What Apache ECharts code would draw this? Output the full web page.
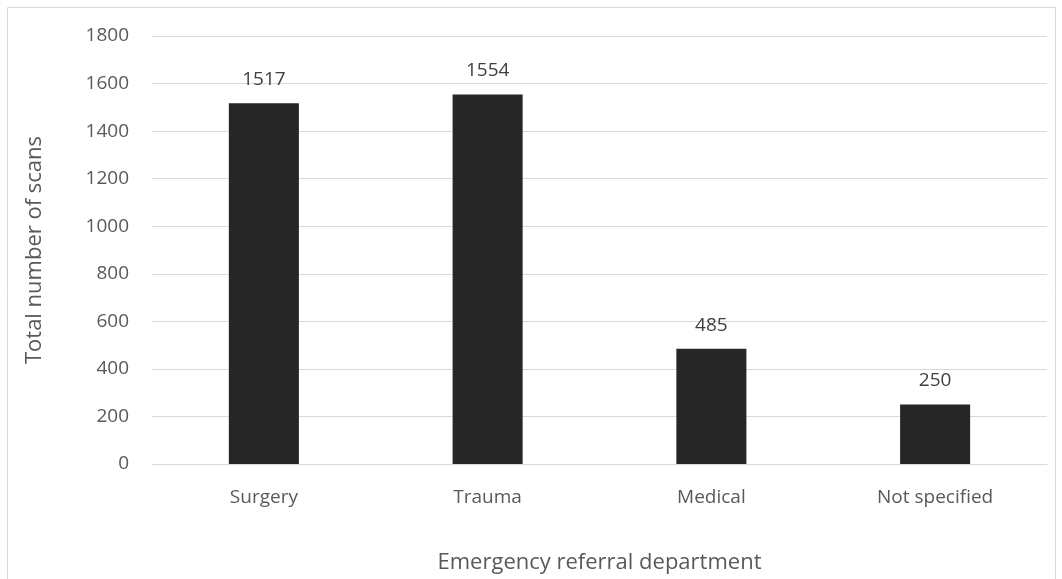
<!DOCTYPE html>
<html>
<head>
<meta charset="utf-8">
<script src="https://cdn.jsdelivr.net/npm/echarts@6/dist/echarts.min.js"></script>
<style>
  html, body { margin: 0; padding: 0; background: #fff; }
  #main { width: 1062px; height: 579px; }
</style>
</head>
<body>
<div id="main"></div>
<script>
const categories = ["Surgery", "Trauma", "Medical", "Not specified"];
const scans = [1517, 1554, 485, 250];
const yTicks = { min: 0, max: 1800, interval: 200 };

const textColor = "#595959";
const fontFamily = "'Open Sans', 'Liberation Sans', sans-serif";

const chart = echarts.init(document.getElementById("main"));
const option = {
  animation: false,
  textStyle: { fontFamily: fontFamily },
  graphic: [
    {
      type: "rect",
      shape: { x: 7.5, y: 7.5, width: 1048, height: 600 },
      style: { fill: "none", stroke: "#d9d9d9", lineWidth: 1 },
      silent: true,
    },
  ],
  grid: { left: 152, right: 15, top: 36, bottom: 115, containLabel: false },
  xAxis: {
    type: "category",
    data: categories,
    name: "Emergency referral department",
    nameLocation: "middle",
    nameGap: 88,
    nameTextStyle: { color: textColor, fontSize: 22, fontFamily: fontFamily },
    axisLine: { show: true, lineStyle: { color: "#d9d9d9", width: 1 } },
    axisTick: { show: false },
    axisLabel: { color: textColor, fontSize: 19, margin: 24, fontFamily: fontFamily },
  },
  yAxis: {
    type: "value",
    min: yTicks.min,
    max: yTicks.max,
    interval: yTicks.interval,
    name: "Total number of scans",
    nameLocation: "middle",
    nameGap: 106,
    nameTextStyle: { color: textColor, fontSize: 22, fontFamily: fontFamily },
    axisLine: { show: false },
    axisTick: { show: false },
    axisLabel: {
      color: textColor,
      fontSize: 19,
      margin: 23,
      fontFamily: fontFamily,
      formatter: (v) => String(v),
    },
    splitLine: { lineStyle: { color: "#d9d9d9", width: 1 } },
  },
  series: [
    {
      type: "bar",
      data: scans,
      barWidth: "31.3%",
      itemStyle: { color: "#262626" },
      label: {
        show: true,
        position: "top",
        distance: 14,
        color: "#404040",
        fontSize: 19,
        fontFamily: fontFamily,
      },
    },
  ],
};
chart.setOption(option);
</script>
</body>
</html>
